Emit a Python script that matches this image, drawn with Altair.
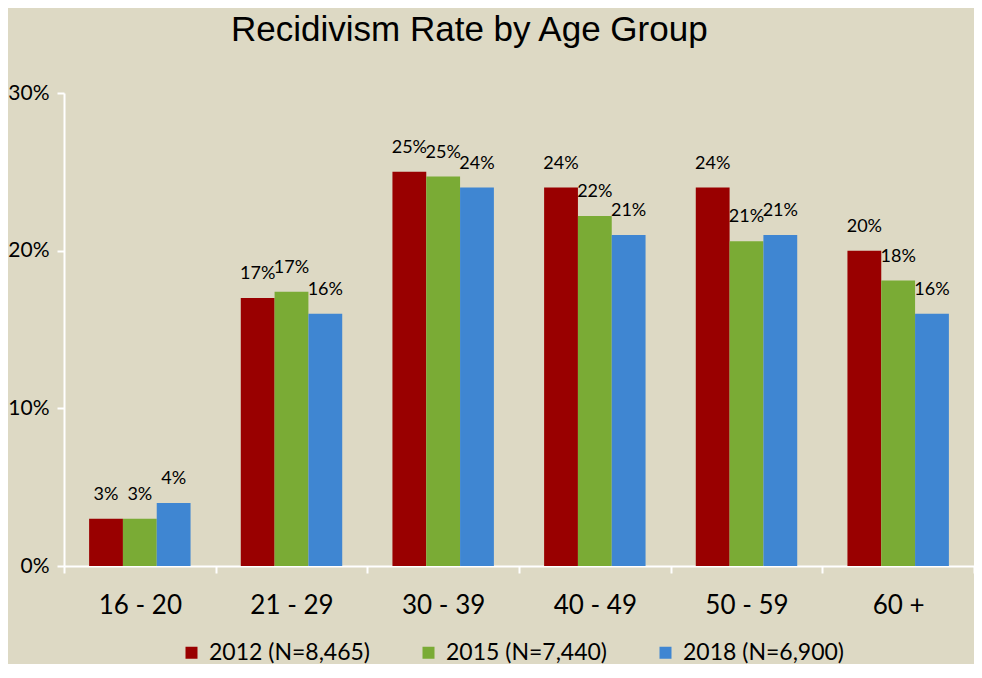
import altair as alt
import pandas as pd

ages = ["16 - 20", "21 - 29", "30 - 39", "40 - 49", "50 - 59", "60 +"]
series = ["2012 (N=8,465)", "2015 (N=7,440)", "2018 (N=6,900)"]
rate_2012 = [3, 17, 25, 24, 24, 20]
rate_2015 = [3, 17.4, 24.7, 22.2, 20.6, 18.1]
rate_2018 = [4, 16, 24, 21, 21, 16]
colors = ["#990000", "#7AAB35", "#3F86D2"]
y_ticks = [0, 10, 20, 30]

rows = []
for s, vals in zip(series, [rate_2012, rate_2015, rate_2018]):
    for a, v in zip(ages, vals):
        rows.append({"age": a, "series": s, "rate": v, "label": f"{round(v)}%"})
df = pd.DataFrame(rows)

x_enc = alt.X(
    "age:N", sort=ages,
    scale=alt.Scale(paddingInner=0, paddingOuter=0),
    axis=alt.Axis(
        title=None, labelAngle=0, tickBand="extent",
        labelFont="Lato", labelFontSize=26, labelColor="black",
        labelBaseline="middle", labelPadding=32,
        domainColor="white", domainWidth=2,
        tickColor="white", tickWidth=2, tickSize=7,
    ),
)
xo_enc = alt.XOffset(
    "series:N", sort=series,
    scale=alt.Scale(paddingOuter=0.7426, paddingInner=0),
)
y_enc = alt.Y(
    "rate:Q",
    scale=alt.Scale(domain=[0, 30]),
    axis=alt.Axis(
        title=None, grid=False, values=y_ticks,
        labelExpr="datum.value + '%'",
        labelFont="Lato", labelFontSize=21, labelColor="black",
        labelPadding=8,
        domainColor="white", domainWidth=2,
        tickColor="white", tickWidth=2, tickSize=7,
    ),
)

bars = alt.Chart(df).mark_bar().encode(
    x=x_enc,
    xOffset=xo_enc,
    y=y_enc,
    color=alt.Color(
        "series:N", sort=series,
        scale=alt.Scale(domain=series, range=colors),
        legend=alt.Legend(
            title=None, orient="none", legendX=116, legendY=548,
            direction="horizontal", symbolType="square", symbolSize=144,
            symbolStrokeWidth=0, labelFont="Lato", labelFontSize=23,
            labelColor="black", columnPadding=46, labelOffset=6,
            labelLimit=400,
        ),
    ),
)

labels = alt.Chart(df).mark_text(
    font="Lato", fontSize=18, color="black", baseline="middle", dy=-24
).encode(
    x=alt.X("age:N", sort=ages),
    xOffset=alt.XOffset("series:N", sort=series),
    y=alt.Y("rate:Q"),
    text="label:N",
)

chart = (
    alt.layer(bars, labels)
    .properties(
        width=910,
        height=473,
        autosize=alt.AutoSizeParams(type="none"),
        padding={"left": 56, "top": 85, "right": 0, "bottom": 98},
        background="#DDD9C4",
        title=alt.TitleParams(
            "Recidivism Rate by Age Group",
            font="Liberation Sans", fontSize=35, fontWeight="normal",
            color="black", anchor="start", frame="group", dx=167,
            offset=6, baseline="alphabetic",
        ),
    )
    .configure_view(stroke=None)
)

chart.save("out.html", embed_options={"renderer": "svg", "actions": False})
